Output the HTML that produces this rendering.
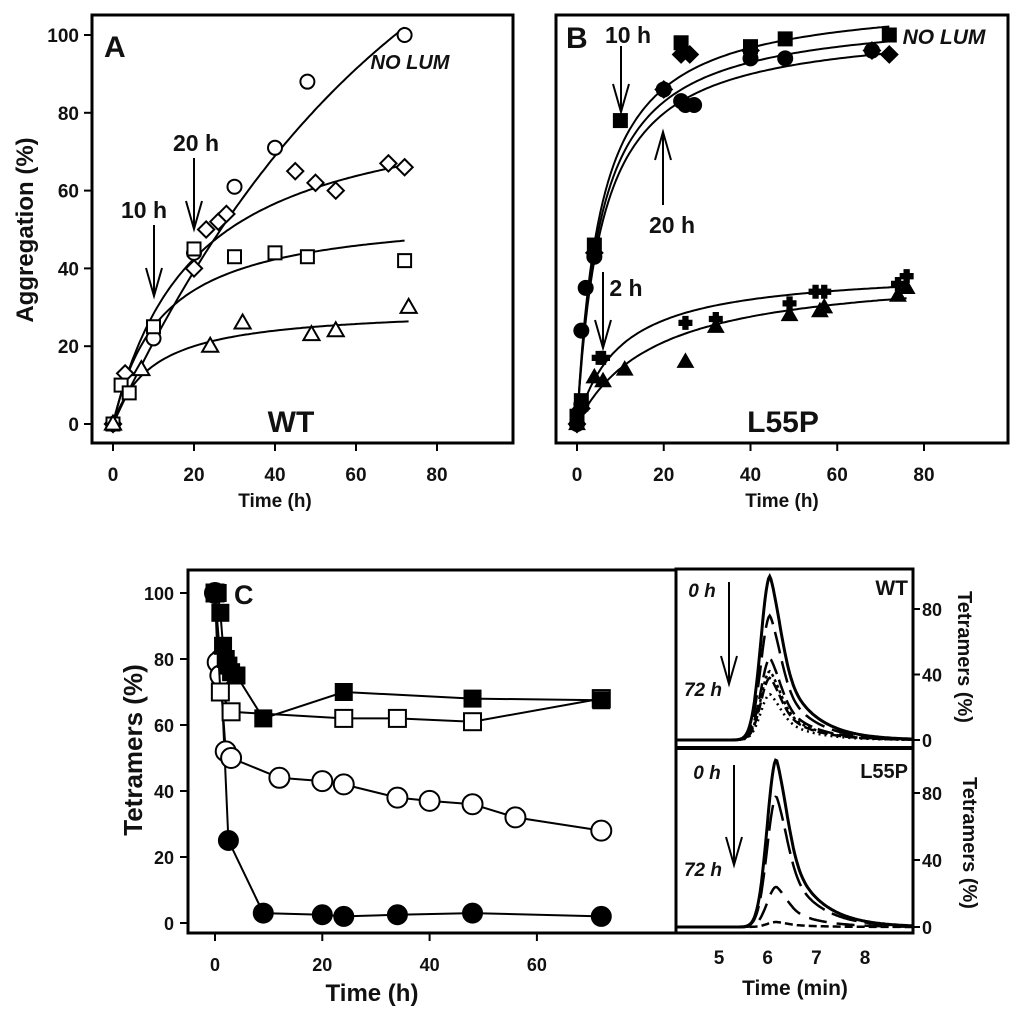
<!DOCTYPE html>
<html><head><meta charset="utf-8"><style>
html,body{margin:0;padding:0;background:#fff}
svg{display:block}
text{font-family:"Liberation Sans",Arial,sans-serif;font-weight:bold;fill:#111}
</style></head><body>
<svg id="fig" width="1024" height="1021" viewBox="0 0 1024 1021" xmlns="http://www.w3.org/2000/svg"></svg>
<script>
// ---------- Panel A data (WT aggregation) ----------
const aCircleX=[0,10,20,30,40,48,72];
const aCircleY=[0,22,44,61,71,88,100];
const aDiamondX=[0,3,20,23,26,28,45,50,55,68,72];
const aDiamondY=[0,13,40,50,52,54,65,62,60,67,66];
const aSquareX=[0,2,4,10,20,30,40,48,72];
const aSquareY=[0,10,8,25,45,43,44,43,42];
const aTriX=[0,7,24,32,49,55,73];
const aTriY=[0,14,20,26,23,24,30];
// fit parameters [type, a, b, xmax]
const aFits=[["exp",160,71,72],["hyp",85,20,72],["hyp",55,12,72],["hyp",30,10,73]];
const xTicksAB=[0,20,40,60,80];
const yTicksA=[0,20,40,60,80,100];
// ---------- Panel B data (L55P aggregation) ----------
const bCircleX=[0,1,1,2,4,20,24,25,27,40,48,68];
const bCircleY=[0,5,24,35,43,86,83,82,82,94,94,96];
const bSquareX=[0,1,4,10,24,40,48,72];
const bSquareY=[2,6,46,78,98,97,99,100];
const bDiamondX=[0,1,4,20,24,26,40,68,72];
const bDiamondY=[0,4,44,86,95,95,96,96,95];
const bPlusX=[0,1,5,6,25,32,49,55,57,74,76];
const bPlusY=[1,4,17,17,26,27,31,34,34,36,38];
const bTriX=[0,4,6,11,25,32,49,56,57,74,76];
const bTriY=[0,12,11,14,16,25,28,29,30,33,35];
const bFits=[["hyp",110,5.5,72],["hyp",106,5.6,72],["hyp",103,5.8,72],["hyp",40,10,76],["hyp",40,18,76]];
// ---------- Panel C data (tetramers) ----------
const cFSqX=[0,0.5,1,1.5,2,2.5,3,4,9,24,48,72];
const cFSqY=[100,100,94,84,80,78,76,75,62,70,68,67.5];
const cOSqX=[0,1,3,24,34,48,72];
const cOSqY=[100,70,64,62,62,61,68];
const cOCirX=[0,0.5,1,2,3,12,20,24,34,40,48,56,72];
const cOCirY=[100,79,75,52,50,44,43,42,38,37,36,32,28];
const cFCirX=[0,1,2.5,9,20,24,34,48,72];
const cFCirY=[100,80,25,3,2.5,2,2.5,3,2];
const xTicksC=[0,20,40,60];
const yTicksC=[0,20,40,60,80,100];
// ---------- Inset chromatograms ----------
const wtHeights=[100,76,50,42,38,28];
const wtDash=["","22,8","16,6","3,3","10,4","2,4"];
const lpHeights=[100,78,24,3];
const lpDash=["","26,8","18,10","8,4"];
const insetXTicks=[5,6,7,8];
const insetYTicks=[0,40,80];

const NS="http://www.w3.org/2000/svg";
const svg=document.getElementById('fig');
function el(tag,attrs,parent){const e=document.createElementNS(NS,tag);for(const k in attrs)e.setAttribute(k,attrs[k]);(parent||svg).appendChild(e);return e;}
function txt(s,x,y,size,extra,parent){const t=el('text',Object.assign({x:x,y:y,'font-size':size},extra||{}),parent);t.textContent=s;return t;}

function marker(g,type,cx,cy,r,filled){
  const f=filled?'#000':'#fff';const sw=filled?1:2;let m;
  if(type==='circle')m=el('circle',{cx:cx,cy:cy,r:r,fill:f,stroke:'#000','stroke-width':sw},g);
  else if(type==='square')m=el('rect',{x:cx-r,y:cy-r,width:2*r,height:2*r,fill:f,stroke:'#000','stroke-width':sw},g);
  else if(type==='diamond')m=el('polygon',{points:`${cx},${cy-r*1.25} ${cx+r*1.25},${cy} ${cx},${cy+r*1.25} ${cx-r*1.25},${cy}`,fill:f,stroke:'#000','stroke-width':sw},g);
  else if(type==='tri')m=el('polygon',{points:`${cx},${cy-r*1.2} ${cx+r*1.15},${cy+r*0.8} ${cx-r*1.15},${cy+r*0.8}`,fill:f,stroke:'#000','stroke-width':sw},g);
  else if(type==='plus'){const a=r*0.45;m=el('polygon',{points:`${cx-a},${cy-r} ${cx+a},${cy-r} ${cx+a},${cy-a} ${cx+r},${cy-a} ${cx+r},${cy+a} ${cx+a},${cy+a} ${cx+a},${cy+r} ${cx-a},${cy+r} ${cx-a},${cy+a} ${cx-r},${cy+a} ${cx-r},${cy-a} ${cx-a},${cy-a}`,fill:'#000'},g);}
  
  
  return m;
}
function fitPath(g,fit,sx,sy){
  let d='';const [t,a,b,xm]=fit;
  for(let i=0;i<=120;i++){const x=xm*i/120;const y=t==='exp'?a*(1-Math.exp(-x/b)):a*x/(b+x);d+=(i?'L':'M')+sx(x).toFixed(1)+','+sy(y).toFixed(1);}
  const p=el('path',{d:d,fill:'none',stroke:'#000','stroke-width':2},g);
  
  
}
function arrow(g,x,y1,y2,name){
  const dir=y2>y1?1:-1;
  const p=el('path',{d:`M${x},${y1}L${x},${y2}M${x-8},${y2-dir*28}L${x},${y2}L${x+8},${y2-dir*28}`,fill:'none',stroke:'#000','stroke-width':2},g);
  
  
}

// ================= Panel A =================
const gA=el('g',{});


const axA=x=>113+x*81/20, ayA=y=>424-y*3.89;
el('rect',{x:92,y:15,width:421,height:428,fill:'none',stroke:'#000','stroke-width':3},gA);
xTicksAB.forEach(v=>{el('line',{x1:axA(v),x2:axA(v),y1:443,y2:451,stroke:'#000','stroke-width':2},gA);txt(String(v),axA(v),481,19,{'text-anchor':'middle'},gA);});
yTicksA.forEach(v=>{el('line',{x1:84,x2:92,y1:ayA(v),y2:ayA(v),stroke:'#000','stroke-width':2},gA);txt(String(v),79,ayA(v)+7,19,{'text-anchor':'end'},gA);});
txt('Time (h)',275,507,19,{'text-anchor':'middle'},gA);
txt('Aggregation (%)',0,0,24,{'text-anchor':'middle',transform:'translate(33,230) rotate(-90)'},gA);
aFits.forEach(f=>fitPath(gA,f,axA,ayA));
aCircleX.forEach((x,i)=>marker(gA,'circle',axA(x),ayA(aCircleY[i]),7,false));
aDiamondX.forEach((x,i)=>marker(gA,'diamond',axA(x),ayA(aDiamondY[i]),6.5,false));
aSquareX.forEach((x,i)=>marker(gA,'square',axA(x),ayA(aSquareY[i]),6.5,false));
aTriX.forEach((x,i)=>marker(gA,'tri',axA(x),ayA(aTriY[i]),7,false));
txt('A',104,57,30,{},gA);
txt('10 h',144,218,23,{'text-anchor':'middle'},gA);
arrow(gA,154,225,296,'arrow-10h');
txt('20 h',196,151,23,{'text-anchor':'middle'},gA);
arrow(gA,194,158,229,'arrow-20h');
txt('NO LUM',410,69,20,{'text-anchor':'middle','font-style':'italic'},gA);
txt('WT',291,432,30,{'text-anchor':'middle'},gA);

// ================= Panel B =================
const gB=el('g',{});


const axB=x=>577+x*86.75/20, ayB=y=>424-y*3.89;
el('rect',{x:556,y:15,width:452,height:428,fill:'none',stroke:'#000','stroke-width':3},gB);
xTicksAB.forEach(v=>{el('line',{x1:axB(v),x2:axB(v),y1:443,y2:451,stroke:'#000','stroke-width':2},gB);txt(String(v),axB(v),481,19,{'text-anchor':'middle'},gB);});
txt('Time (h)',782,507,19,{'text-anchor':'middle'},gB);
bFits.forEach(f=>fitPath(gB,f,axB,ayB));
bCircleX.forEach((x,i)=>marker(gB,'circle',axB(x),ayB(bCircleY[i]),7.5,true));
bSquareX.forEach((x,i)=>marker(gB,'square',axB(x),ayB(bSquareY[i]),7,true));
bDiamondX.forEach((x,i)=>marker(gB,'diamond',axB(x),ayB(bDiamondY[i]),7,true));
bPlusX.forEach((x,i)=>marker(gB,'plus',axB(x),ayB(bPlusY[i]),7,true));
bTriX.forEach((x,i)=>marker(gB,'tri',axB(x),ayB(bTriY[i]),7,true));
txt('B',566,48,30,{},gB);
txt('10 h',628,43,23,{'text-anchor':'middle'},gB);
arrow(gB,621,46,112,'arrow-10h');
txt('20 h',672,233,23,{'text-anchor':'middle'},gB);
arrow(gB,663,205,132,'arrow-20h');
txt('2 h',626,296,23,{'text-anchor':'middle'},gB);
arrow(gB,603,272,348,'arrow-2h');
txt('NO LUM',944,44,21,{'text-anchor':'middle','font-style':'italic'},gB);
txt('L55P',783,432,30,{'text-anchor':'middle'},gB);

// ================= Panel C =================
const gC=el('g',{});


const axC=x=>215+x*107.3/20, ayC=y=>923-y*3.3;
el('rect',{x:188,y:570,width:488,height:363,fill:'none',stroke:'#000','stroke-width':3},gC);
xTicksC.forEach(v=>{el('line',{x1:axC(v),x2:axC(v),y1:933,y2:941,stroke:'#000','stroke-width':2},gC);txt(String(v),axC(v),971,18,{'text-anchor':'middle'},gC);});
yTicksC.forEach(v=>{el('line',{x1:180,x2:188,y1:ayC(v),y2:ayC(v),stroke:'#000','stroke-width':2},gC);txt(String(v),174,ayC(v)+7,18,{'text-anchor':'end'},gC);});
txt('Time (h)',372,1001,24,{'text-anchor':'middle'},gC);
txt('Tetramers (%)',0,0,26,{'text-anchor':'middle',transform:'translate(142,750) rotate(-90)'},gC);
function series(xs,ys,type,r,filled,name){
  const pl=el('polyline',{points:xs.map((x,i)=>axC(x)+','+ayC(ys[i])).join(' '),fill:'none',stroke:'#000','stroke-width':2},gC);
  
  
  xs.forEach((x,i)=>marker(gC,type,axC(x),ayC(ys[i]),r,filled));
}
series(cFCirX,cFCirY,'circle',10,true,'filled-circle');
series(cOCirX,cOCirY,'circle',10,false,'open-circle');
series(cOSqX,cOSqY,'square',8.5,false,'open-square');
series(cFSqX,cFSqY,'square',8.5,true,'filled-square');
txt('C',234,604,27,{},gC);

// ================= Inset =================
const gI=el('g',{});


const axI=t=>719+(t-5)*48.7;
const peak=(t,p)=>t<p?Math.exp(-Math.pow((t-p)/0.19,2)/2):Math.exp(-Math.pow((t-p)/0.22,2)/2)*0.35+0.65*Math.exp(-(t-p)/0.62);
function chrom(heights,dashes,p,y0,scale,name){
  heights.forEach((h,k)=>{
    let d='';
    for(let i=0;i<=200;i++){const t=4.15+i*(9.0-4.15)/200;const y=y0-h*scale*peak(t,p);d+=(i?'L':'M')+axI(t).toFixed(1)+','+y.toFixed(1);}
    const path=el('path',{d:d,fill:'none',stroke:'#000','stroke-width':k===0?3:2.5,'stroke-dasharray':dashes[k]},gI);
    
    
  });
}
el('rect',{x:676,y:569,width:237,height:364,fill:'none',stroke:'#000','stroke-width':3},gI);
el('line',{x1:676,x2:913,y1:748,y2:748,stroke:'#000','stroke-width':4},gI);
const ayW=y=>740-y*65.5/40, ayL=y=>927-y*67/40;
chrom(wtHeights,wtDash,6.05,740,65.5/40,'wt');
chrom(lpHeights,lpDash,6.18,927,67/40,'l55p');
insetYTicks.forEach(v=>{
  el('line',{x1:913,x2:920,y1:ayW(v),y2:ayW(v),stroke:'#000','stroke-width':2},gI);txt(String(v),922,ayW(v)+7,18,{'font-weight':'normal'},gI);
  el('line',{x1:913,x2:920,y1:ayL(v),y2:ayL(v),stroke:'#000','stroke-width':2},gI);txt(String(v),922,ayL(v)+7,18,{'font-weight':'normal'},gI);
});
insetXTicks.forEach(v=>txt(String(v),axI(v),964,19,{'text-anchor':'middle','font-weight':'normal'},gI));
txt('Time (min)',795,995,21,{'text-anchor':'middle'},gI);
txt('Tetramers (%)',0,0,20,{'text-anchor':'middle','font-weight':'normal',transform:'translate(958,657) rotate(90)'},gI);
txt('Tetramers (%)',0,0,20,{'text-anchor':'middle','font-weight':'normal',transform:'translate(963,843) rotate(90)'},gI);
txt('WT',908,595,21,{'text-anchor':'end'},gI);
txt('L55P',908,778,20,{'text-anchor':'end','font-weight':'normal'},gI);
txt('0 h',702,597,19,{'text-anchor':'middle','font-style':'italic','font-weight':'normal'},gI);
txt('72 h',703,696,19,{'text-anchor':'middle','font-style':'italic','font-weight':'normal'},gI);
txt('0 h',707,779,19,{'text-anchor':'middle','font-style':'italic','font-weight':'normal'},gI);
txt('72 h',703,876,19,{'text-anchor':'middle','font-style':'italic','font-weight':'normal'},gI);
arrow(gI,729,582,684,'arrow-0-72h-wt');
arrow(gI,734,765,865,'arrow-0-72h-l55p');
</script>
</body></html>
